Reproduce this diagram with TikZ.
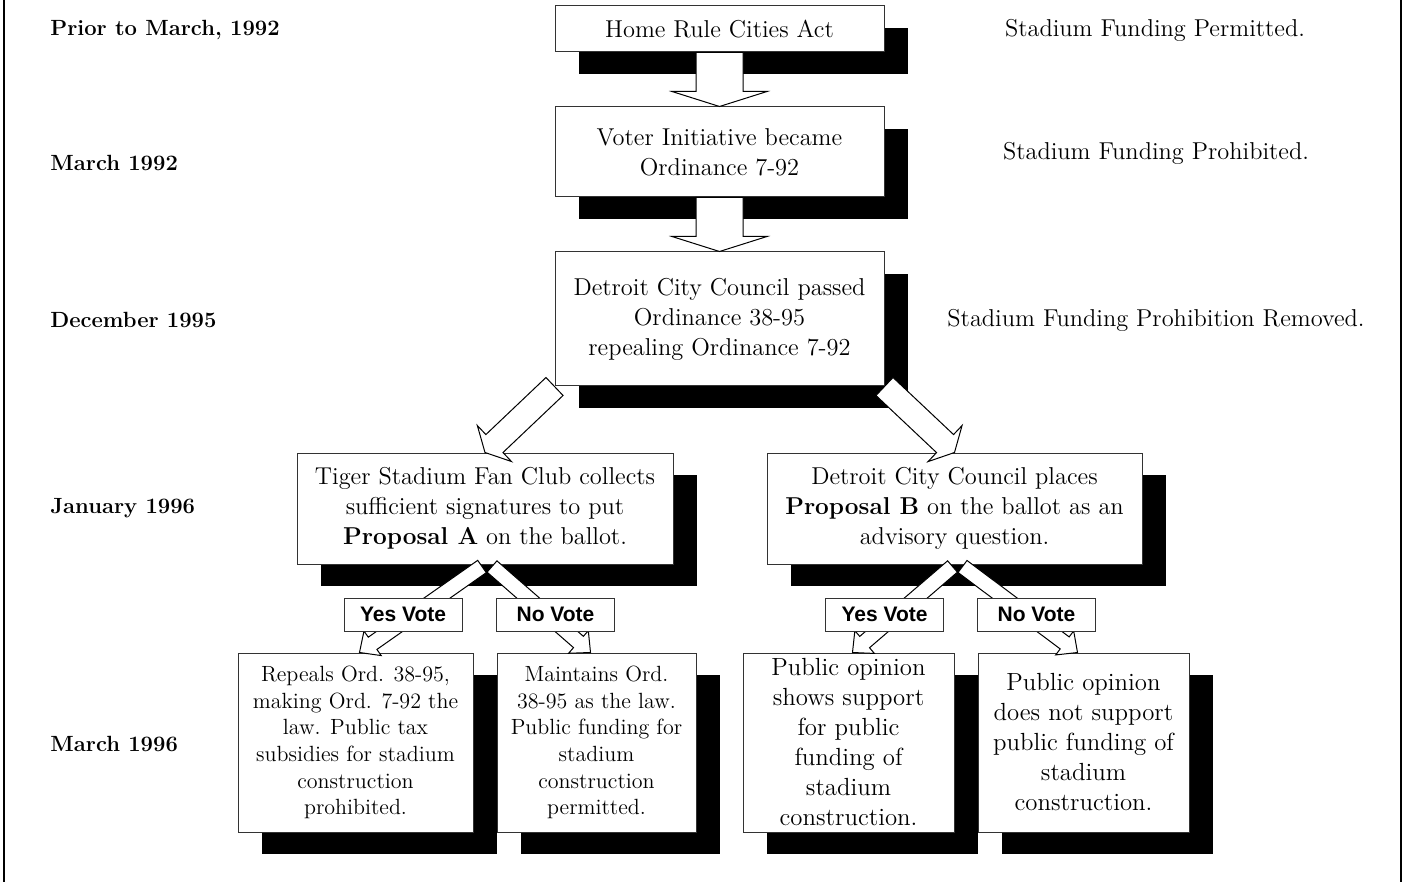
\documentclass[tikz,border=0pt]{standalone}
\usepackage{fontspec}
\newfontfamily\votefont{Liberation Sans}
\usetikzlibrary{calc,shadows}
\tikzset{
  box/.style={draw=black!80, line width=0.5pt, fill=white, align=center, inner sep=0pt,
    general shadow={fill=black, shadow xshift=12pt, shadow yshift=-11pt}},
  topbox/.style={box, minimum width=164.5pt, font=\fontsize{12.2}{15}\selectfont},
  midbox/.style={box, minimum height=55.5pt, font=\fontsize{12.2}{15}\selectfont},
  botbox/.style={box, minimum height=89.5pt, font=\fontsize{11}{13.3}\selectfont},
  botboxb/.style={box, minimum height=89.5pt, minimum width=105.5pt, font=\fontsize{12.4}{15}\selectfont},
  votebox/.style={draw=black!80, line width=0.5pt, fill=white, inner sep=0pt,
    minimum width=59pt, minimum height=16.5pt, font=\votefont\bfseries\fontsize{10.5}{12}\selectfont},
  datelabel/.style={anchor=west, inner sep=0pt, font=\bfseries\fontsize{11}{13}\selectfont},
  statuslabel/.style={font=\fontsize{12.2}{15}\selectfont},
  blockarrow/.style={draw=black, line width=0.5pt, fill=white, line join=miter},
  frameline/.style={line width=1pt}
}
\newcommand\blockarr[5]{%
  \coordinate (ba-t) at (#1);
  \coordinate (ba-p) at (#2);
  \coordinate (ba-h) at ($(ba-p)!#5!(ba-t)$);
  \draw[blockarrow] ($(ba-t)!#3!90:(ba-p)$) -- ($(ba-h)!#3!90:(ba-p)$) -- ($(ba-h)!#4!90:(ba-p)$)
    -- (ba-p) -- ($(ba-h)!#4!-90:(ba-p)$) -- ($(ba-h)!#3!-90:(ba-p)$) -- ($(ba-t)!#3!-90:(ba-p)$) -- cycle;
}
\begin{document}
\begin{tikzpicture}[x=0.5pt, y=-0.5pt]
\useasboundingbox (0,0) rectangle (1404,882);
\draw[frameline] (4,0) -- (4,882);
\draw[frameline] (1401,0) -- (1401,882);

% date labels
\node[datelabel] (d1) at (50,30) {Prior to March, 1992};
\node[datelabel] (d2) at (50,163) {March 1992};
\node[datelabel] (d3) at (50,320) {December 1995};
\node[datelabel] (d4) at (50,508) {January 1996};
\node[datelabel] (d5) at (50,744) {March 1996};

% status labels
\node[statuslabel] (s1) at (1155,30) {Stadium Funding Permitted.};
\node[statuslabel] (s2) at (1156,153) {Stadium Funding Prohibited.};
\node[statuslabel] (s3) at (1156,320) {Stadium Funding Prohibition Removed.};

% main boxes
\node[topbox, minimum height=23pt] (b1) at (719.5,29) {Home Rule Cities Act};
\node[topbox, minimum height=45pt] (b2) at (719.5,152) {Voter Initiative became\\Ordinance 7-92};
\node[topbox, minimum height=67pt] (b3) at (719.5,319) {Detroit City Council passed\\Ordinance 38-95\\repealing Ordinance 7-92};
\node[midbox, minimum width=188pt] (b4) at (485,508.5) {Tiger Stadium Fan Club collects\\sufficient signatures to put\\\textbf{Proposal A} on the ballot.};
\node[midbox, minimum width=187.5pt] (b5) at (954.5,508.5) {Detroit City Council places\\\textbf{Proposal B} on the ballot as an\\advisory question.};

\node[botbox, minimum width=117.5pt] (c1) at (355.5,742.5) {Repeals Ord. 38-95,\\making Ord. 7-92 the\\law. Public tax\\subsidies for stadium\\construction\\prohibited.};
\node[botbox, minimum width=99.5pt] (c2) at (596.5,742.5) {Maintains Ord.\\38-95 as the law.\\Public funding for\\stadium\\construction\\permitted.};
\node[botboxb] (c3) at (848.5,742.5) {Public opinion\\shows support\\for public\\funding of\\stadium\\construction.};
\node[botboxb] (c4) at (1083.5,742.5) {Public opinion\\does not support\\public funding of\\stadium\\construction.};

% block arrows
\blockarr{b1.south}{b2.north}{11.75pt}{23.75pt}{7.5pt}
\blockarr{b2.south}{b3.north}{11.75pt}{23.75pt}{7.5pt}
\blockarr{b3.south west}{b4.north}{6.2pt}{12.4pt}{6.5pt}
\blockarr{b3.south east}{b5.north}{6.2pt}{12.4pt}{6.5pt}

\blockarr{$(b4.south)+(-3,2)$}{$(c1.north)+(4,0)$}{3.75pt}{7.5pt}{8pt}
\blockarr{$(b4.south)+(7,2)$}{$(c2.north)+(-6,0)$}{3.75pt}{7.5pt}{8pt}
\blockarr{$(b5.south)+(-2,2)$}{$(c3.north)+(4,0)$}{3.75pt}{7.5pt}{8pt}
\blockarr{$(b5.south)+(8,2)$}{$(c4.north)+(-6,0)$}{3.75pt}{7.5pt}{8pt}

% vote labels
\node[votebox] (y1) at (403,614.5) {Yes Vote};
\node[votebox] (n1) at (555.5,614.5) {No Vote};
\node[votebox] (y2) at (884.5,614.5) {Yes Vote};
\node[votebox] (n2) at (1036.5,614.5) {No Vote};
\end{tikzpicture}
\end{document}
